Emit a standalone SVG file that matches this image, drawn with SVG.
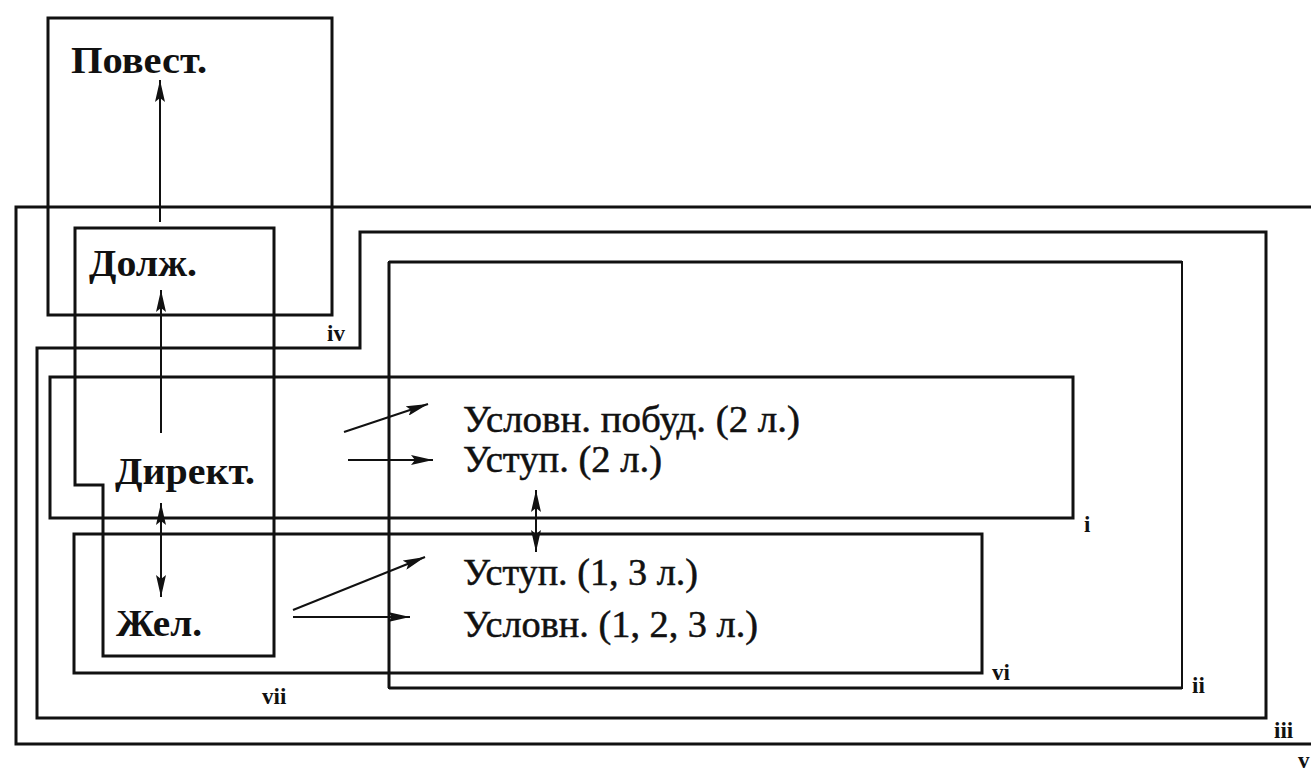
<svg xmlns="http://www.w3.org/2000/svg" width="1311" height="771" viewBox="0 0 1311 771">
<style>
.box{fill:none;stroke:#111;stroke-width:3}
.thin{fill:none;stroke:#111;stroke-width:2}
.lbl{font-family:"Liberation Serif",serif;font-size:37px;fill:#111}
.r{stroke:#111;stroke-width:0.5}
.b{font-weight:bold}
.tag{font-family:"Liberation Serif",serif;font-size:23px;font-weight:bold;fill:#111}
.ar{stroke:#111;stroke-width:2;fill:none}
</style>
<defs>
<marker id="ah" viewBox="0 0 22 10" refX="22" refY="5" markerWidth="22" markerHeight="10" markerUnits="userSpaceOnUse" orient="auto-start-reverse">
<path d="M0,0 L22,5 L0,10 L4,5 Z" fill="#111"/>
</marker>
</defs>
<rect width="1311" height="771" fill="#fff"/>
<g id="box-v"><path class="box" d="M1311,207 L16,207 L16,744 L1311,744"/><text class="tag" x="1298" y="768" font-size="18">v</text></g>
<g id="box-iii"><path class="box" d="M37,348 L360,348 L360,232 L1266,232 L1266,718 L37,718 Z"/><text class="tag" x="1274" y="738">iii</text></g>
<g id="box-ii"><path class="thin" d="M389,262 L1182,262 L1182,688 L389,688 Z"/><path class="box" d="M389,262 L1182,262 M389,688 L1182,688 M389,262 L389,688"/><text class="tag" x="1192" y="693">ii</text></g>
<g id="box-iv"><rect class="box" x="48" y="18" width="284" height="297"/><text class="tag" x="327" y="341">iv</text></g>
<g id="box-i"><rect class="box" x="50" y="377" width="1023" height="141"/><text class="tag" x="1084" y="532">i</text></g>
<g id="box-vi"><rect class="box" x="74" y="534" width="908" height="139"/><text class="tag" x="992" y="680">vi</text></g>
<g id="box-vii"><path class="box" d="M75,228 L274,228 L274,656 L103,656 L103,485 L75,485 Z"/><text class="tag" x="262" y="704">vii</text></g>
<g id="n-povest"><text class="lbl b" x="71" y="73" textLength="136" lengthAdjust="spacingAndGlyphs">Повест.</text></g>
<g id="n-dolzh"><text class="lbl b" x="89" y="276" textLength="108" lengthAdjust="spacingAndGlyphs">Долж.</text></g>
<g id="n-direkt"><text class="lbl b" x="115" y="484" textLength="140" lengthAdjust="spacingAndGlyphs">Директ.</text></g>
<g id="n-zhel"><text class="lbl b" x="116" y="636" textLength="86" lengthAdjust="spacingAndGlyphs">Жел.</text></g>
<g id="n-uslpob"><text class="lbl r" x="463" y="432" textLength="337" lengthAdjust="spacingAndGlyphs">Условн. побуд. (2 л.)</text></g>
<g id="n-ustup2"><text class="lbl r" x="463" y="472" textLength="199" lengthAdjust="spacingAndGlyphs">Уступ. (2 л.)</text></g>
<g id="n-ustup13"><text class="lbl r" x="463" y="585" textLength="235" lengthAdjust="spacingAndGlyphs">Уступ. (1, 3 л.)</text></g>
<g id="n-usl123"><text class="lbl r" x="463" y="637" textLength="295" lengthAdjust="spacingAndGlyphs">Условн. (1, 2, 3 л.)</text></g>
<g id="connectors">
<line class="ar" x1="160" y1="222" x2="160" y2="80" marker-end="url(#ah)"/>
<line class="ar" x1="161" y1="433" x2="161" y2="290" stroke-width="1.5" marker-end="url(#ah)"/>
<line class="ar" x1="161" y1="503" x2="161" y2="597" marker-start="url(#ah)" marker-end="url(#ah)"/>
<line class="ar" x1="536" y1="490" x2="536" y2="552" marker-start="url(#ah)" marker-end="url(#ah)"/>
<line class="ar" x1="344" y1="432" x2="428" y2="404" marker-end="url(#ah)"/>
<line class="ar" x1="348" y1="460" x2="433" y2="460" marker-end="url(#ah)"/>
<line class="ar" x1="293" y1="610" x2="425" y2="557" marker-end="url(#ah)"/>
<line class="ar" x1="293" y1="617" x2="410" y2="617" marker-end="url(#ah)"/>
</g>
</svg>
